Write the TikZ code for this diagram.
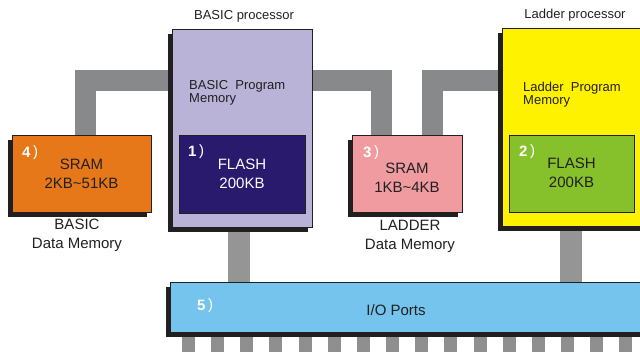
\documentclass[tikz,border=0pt]{standalone}
\usepackage{fontspec}
\setmainfont{Liberation Sans}
\usetikzlibrary{shadows}
\definecolor{lav}{HTML}{B8B3D7}
\definecolor{navy}{HTML}{2A1A6E}
\definecolor{yel}{HTML}{FFF200}
\definecolor{grn}{HTML}{86C02A}
\definecolor{org}{HTML}{E6781A}
\definecolor{pnk}{HTML}{F09BA0}
\definecolor{sky}{HTML}{74C4ED}
\definecolor{busgray}{HTML}{88898B}
\definecolor{busvgray}{HTML}{959595}
\definecolor{pingray}{HTML}{8F8F8F}
\definecolor{ink}{HTML}{231F20}
\pgfdeclarelayer{bg}
\pgfsetlayers{bg,main}
\tikzset{
  box/.style={draw=ink, line width=0.8pt, inner sep=0pt, anchor=north west,
    general shadow={fill=ink, shadow xshift=-4pt, shadow yshift=-4.5pt}},
  inbox/.style={draw=ink, line width=0.8pt, inner sep=0pt, anchor=north west},
  hbus/.style={draw=busgray, line width=21pt, line join=miter},
  vbus/.style={draw=busvgray, line width=22pt},
  big/.style={font=\fontsize{15}{19}\selectfont, text=ink, align=center, inner sep=0pt},
  small/.style={font=\fontsize{13}{13}\selectfont, text=ink, inner sep=0pt},
  num/.style={font=\fontsize{15}{15}\selectfont, text=white, anchor=west, inner sep=0pt},
}
\newcommand{\numlab}[1]{\textbf{#1}\,\raisebox{0.5pt}{)}}
\begin{document}
\begin{tikzpicture}[x=1pt,y=-1pt]
\useasboundingbox (0,0) rectangle (640,352);
% boxes
\node[box, fill=org, minimum width=139pt, minimum height=77pt] (sram4) at (12,135) {};
\node[box, fill=pnk, minimum width=110pt, minimum height=77pt] (sram3) at (352,135) {};
\node[box, fill=lav, minimum width=140pt, minimum height=198pt] (basicp) at (172,29) {};
\node[box, fill=yel, minimum width=150pt, minimum height=198pt] (ladderp) at (502,28) {};
\node[inbox, fill=navy, minimum width=126pt, minimum height=78pt] (flash1) at (179,135) {};
\node[inbox, fill=grn, minimum width=125pt, minimum height=77pt] (flash2) at (509,135) {};
\node[box, fill=sky, minimum width=480pt, minimum height=50pt] (io) at (170,282) {};
% buses and pins on background layer
\begin{pgfonlayer}{bg}
\draw[hbus] ([xshift=3.5pt]sram4.north) |- (basicp.west |- 0,80.5);
\draw[hbus] (basicp.east |- 0,80.5) -| (sram3.north -| 381.5,0);
\draw[hbus] (sram3.north -| 432.5,0) |- (ladderp.west |- 0,80.5);
\draw[vbus] (basicp.south -| 239,0) -- (io.north -| 239,0);
\draw[vbus] (ladderp.south -| 571,0) -- (io.north -| 571,0);
\foreach \i in {0,...,15} {
  \fill[pingray] ({182+\i*29.15},336) rectangle ({195+\i*29.15},353);
}
\end{pgfonlayer}
% texts
\node[small] (lbp) at (244,16) {BASIC processor};
\node[small] (llp) at (575,15) {Ladder processor};
\node[small, anchor=west, align=left] (bpm) at (189,93) {BASIC\ \ Program\\Memory};
\node[small, anchor=west, align=left] (lpm) at (523,95) {Ladder\ \ Program\\Memory};
\node[big, text=white] (t1) at (242,174) {FLASH\\200KB};
\node[big] (t2) at (571.5,173) {FLASH\\200KB};
\node[big] (t4) at (81.5,174) {SRAM\\2KB\textasciitilde 51KB};
\node[big] (t3) at (407,178) {SRAM\\1KB\textasciitilde 4KB};
\node[big] (bdm) at (77,235) {BASIC\\Data Memory};
\node[big] (ldm) at (410,236.5) {LADDER\\Data Memory};
\node[big] (tio) at (396,310) {I/O Ports};
\node[num] (n1) at (188,152) {\numlab{1}};
\node[num] (n2) at (519,152) {\numlab{2}};
\node[num] (n3) at (363,153) {\numlab{3}};
\node[num] (n4) at (22,153) {\numlab{4}};
\node[num] (n5) at (197,306) {\numlab{5}};
\end{tikzpicture}
\end{document}
